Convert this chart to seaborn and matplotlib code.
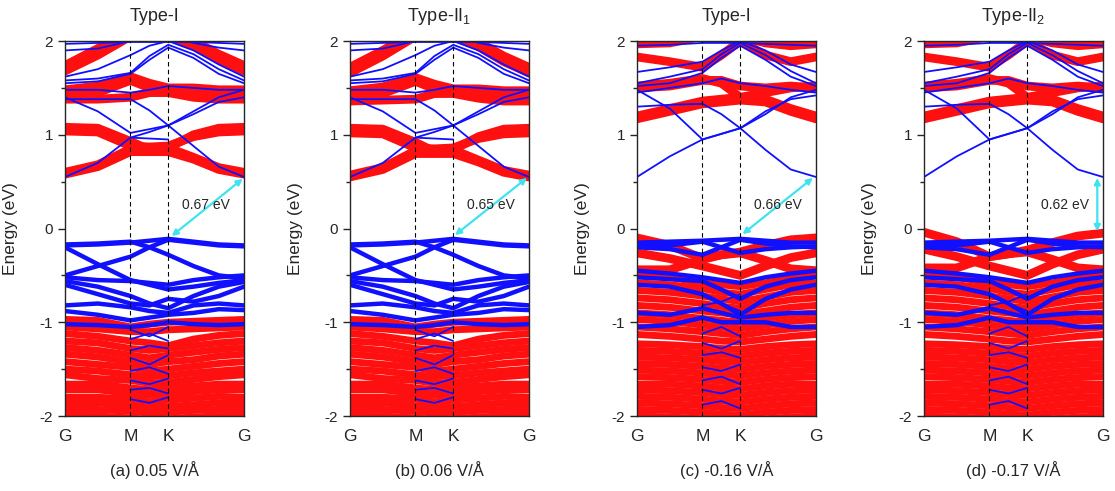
import numpy as np
import pandas as pd
import matplotlib.pyplot as plt
import seaborn as sns

# ---- k-path (G-M-K-G, hexagonal BZ) ----
K_PATH = [0.0, 0.289, 0.577, 0.744, 0.910, 1.132, 1.355, 1.577]
K_TICKS = [0.0, 0.577, 0.910, 1.577]
K_LABELS = ["G", "M", "K", "G"]
nan = np.nan

# ---- panel (a) : 0.05 V/A ----
a_cond_red = [
    [0.60, 0.68, 0.85, 0.86, 0.86, 0.76, 0.65, 0.60],
    [0.58, 0.66, 0.82, 0.82, 0.82, 0.74, 0.63, 0.58],
    [1.04, 1.03, 0.88, 0.87, 0.88, 0.98, 1.03, 1.04],
    [1.08, 1.07, 0.93, 0.84, 0.86, 1.00, 1.07, 1.08],
    [1.38, 1.38, 1.40, 1.45, 1.45, 1.40, 1.38, 1.38],
    [1.42, 1.45, 1.58, 1.50, 1.47, 1.45, 1.42, 1.42],
    [1.48, 1.52, 1.62, 1.55, 1.50, 1.50, 1.48, 1.48],
    [1.68, 1.85, 2.05, 2.05, 2.05, 1.95, 1.80, 1.68],
    [1.74, 1.92, 2.10, 2.10, 2.10, 2.00, 1.86, 1.74],
]
a_cond_blue = [
    [0.55, 0.70, 0.97, 1.03, 1.10, 0.88, 0.66, 0.55],
    [1.40, 1.25, 1.02, 1.06, 1.10, 1.25, 1.40, 1.48],
    [1.38, 1.38, 1.38, 1.26, 1.10, 1.22, 1.35, 1.40],
    [nan, nan, 0.97, 0.96, 0.95, nan, nan, nan],
    [1.48, 1.48, 1.45, 1.48, 1.52, 1.50, 1.48, 1.48],
    [1.55, 1.57, 1.65, 1.80, 1.93, 1.82, 1.65, 1.55],
    [1.58, 1.60, 1.66, 1.84, 1.96, 1.86, 1.70, 1.58],
    [1.62, 1.70, 1.85, 1.95, 2.00, 1.90, 1.75, 1.62],
    [1.90, 1.92, 2.00, 2.05, 2.05, 1.98, 1.93, 1.90],
    [1.97, 1.98, 1.99, 1.99, 1.99, 1.99, 1.98, 1.97],
]
b_cond_red = [
    [0.57, 0.65, 0.83, 0.84, 0.84, 0.73, 0.62, 0.57],
    [0.55, 0.63, 0.80, 0.80, 0.80, 0.71, 0.60, 0.55],
    [1.02, 1.01, 0.86, 0.85, 0.86, 0.96, 1.01, 1.02],
    [1.07, 1.06, 0.92, 0.82, 0.84, 0.98, 1.06, 1.07],
    [1.36, 1.37, 1.38, 1.44, 1.44, 1.39, 1.36, 1.36],
    [1.40, 1.44, 1.57, 1.49, 1.46, 1.44, 1.40, 1.40],
    [1.47, 1.51, 1.61, 1.54, 1.49, 1.49, 1.47, 1.47],
    [1.66, 1.84, 2.05, 2.05, 2.05, 1.94, 1.78, 1.66],
    [1.72, 1.90, 2.10, 2.10, 2.10, 1.99, 1.84, 1.72],
]
low_val_blue = [
    [-0.17, -0.16, -0.14, -0.20, -0.28, -0.40, -0.50, -0.53],
    [-0.18, -0.17, -0.15, -0.13, -0.11, -0.14, -0.17, -0.18],
    [-0.20, -0.38, -0.55, -0.60, -0.65, -0.62, -0.58, -0.55],
    [-0.50, -0.40, -0.30, -0.20, -0.12, -0.15, -0.18, -0.19],
    [-0.52, -0.55, -0.56, -0.58, -0.60, -0.55, -0.52, -0.50],
    [-0.56, -0.62, -0.72, -0.80, -0.85, -0.72, -0.62, -0.57],
    [-0.60, -0.70, -0.80, -0.82, -0.75, -0.78, -0.72, -0.62],
    [-0.82, -0.80, -0.84, -0.88, -0.90, -0.82, -0.80, -0.82],
    [-0.88, -0.92, -0.98, -0.95, -0.92, -0.90, -0.86, -0.87],
    [-1.02, -1.03, -1.05, -1.03, -1.00, -1.02, -1.03, -1.02],
]
low_val_red = [
    [-0.97, -0.98, -1.05, -1.02, -1.00, -0.99, -0.98, -0.97],
    [-1.05, -1.07, -1.10, -1.10, -1.08, -1.07, -1.06, -1.05],
    [-1.12, -1.15, -1.20, -1.22, -1.25, -1.18, -1.14, -1.12],
    [-1.20, -1.22, -1.28, -1.30, -1.28, -1.25, -1.22, -1.20],
    [-1.27, -1.30, -1.35, -1.38, -1.35, -1.32, -1.29, -1.27],
    [-1.34, -1.37, -1.42, -1.45, -1.42, -1.40, -1.36, -1.34],
    [-1.42, -1.45, -1.48, -1.52, -1.50, -1.47, -1.44, -1.42],
    [-1.50, -1.52, -1.56, -1.58, -1.57, -1.54, -1.52, -1.50],
    [-1.56, -1.60, -1.62, -1.65, -1.64, -1.61, -1.58, -1.56],
    [-1.66, -1.66, -1.70, -1.72, -1.70, -1.68, -1.66, -1.66],
    [-1.72, -1.72, -1.76, -1.78, -1.77, -1.74, -1.72, -1.72],
    [-1.80, -1.80, -1.82, -1.85, -1.83, -1.81, -1.79, -1.80],
    [-1.86, -1.86, -1.89, -1.91, -1.90, -1.88, -1.86, -1.86],
    [-1.93, -1.93, -1.95, -1.97, -1.96, -1.94, -1.93, -1.93],
    [-1.99, -2.00, -2.02, -2.04, -2.03, -2.01, -2.00, -1.99],
]
low_val_blue_mk = [
    [nan, nan, -1.08, -1.15, -1.05, nan, nan, nan],
    [nan, nan, -1.18, -1.12, -1.20, nan, nan, nan],
    [nan, nan, -1.30, -1.25, -1.28, nan, nan, nan],
    [nan, nan, -1.38, -1.45, -1.35, nan, nan, nan],
    [nan, nan, -1.52, -1.48, -1.55, nan, nan, nan],
    [nan, nan, -1.62, -1.66, -1.60, nan, nan, nan],
    [nan, nan, -1.72, -1.70, -1.76, nan, nan, nan],
    [nan, nan, -1.82, -1.86, -1.80, nan, nan, nan],
]

# ---- panel (c) : -0.16 V/A ----
c_cond_red = [
    [1.17, 1.25, 1.33, 1.35, 1.37, 1.35, 1.25, 1.17],
    [1.20, 1.28, 1.36, 1.38, 1.40, 1.38, 1.28, 1.20],
    [1.50, 1.52, 1.58, 1.58, 1.52, 1.50, 1.52, 1.50],
    [1.52, 1.55, 1.60, 1.55, 1.40, 1.45, 1.50, 1.52],
    [1.83, 1.78, 1.72, 1.85, 2.00, 1.85, 1.78, 1.83],
    [1.97, 1.98, 2.05, 2.05, 2.05, 1.98, 1.95, 1.97],
]
c_cond_blue = [
    [0.55, 0.77, 0.95, 1.01, 1.07, 0.84, 0.63, 0.55],
    [1.48, 1.28, 0.95, 1.01, 1.07, 1.22, 1.40, 1.48],
    [1.30, 1.32, 1.33, 1.22, 1.07, 1.25, 1.38, 1.42],
    [1.45, 1.50, 1.55, 1.60, 1.55, 1.52, 1.48, 1.45],
    [1.52, 1.55, 1.66, 1.82, 1.95, 1.80, 1.62, 1.52],
    [1.55, 1.62, 1.70, 1.86, 1.98, 1.85, 1.68, 1.55],
    [1.67, 1.72, 1.78, 1.90, 2.00, 1.90, 1.75, 1.67],
    [1.95, 1.96, 1.98, 1.98, 1.98, 1.97, 1.96, 1.95],
]
high_val_blue = [
    [-0.15, -0.14, -0.13, -0.12, -0.11, -0.13, -0.15, -0.15],
    [-0.19, -0.18, -0.14, -0.20, -0.26, -0.22, -0.20, -0.19],
    [-0.20, -0.22, -0.28, -0.20, -0.12, -0.16, -0.19, -0.20],
    [-0.45, -0.48, -0.52, -0.55, -0.58, -0.52, -0.48, -0.45],
    [-0.52, -0.54, -0.56, -0.65, -0.75, -0.62, -0.55, -0.52],
    [-0.60, -0.62, -0.70, -0.80, -0.92, -0.75, -0.65, -0.60],
    [-0.90, -0.92, -0.85, -0.90, -0.95, -0.92, -0.90, -0.90],
    [-1.05, -1.03, -0.95, -1.00, -1.00, -1.00, -1.05, -1.05],
]
c_val_red_top = [
    [-0.10, -0.18, -0.32, -0.28, -0.25, -0.18, -0.12, -0.10],
    [-0.26, -0.32, -0.40, -0.45, -0.50, -0.40, -0.31, -0.26],
    [-0.44, -0.44, -0.33, -0.28, -0.26, -0.34, -0.43, -0.45],
]
d_val_red_top = [
    [-0.04, -0.14, -0.30, -0.27, -0.23, -0.15, -0.08, -0.05],
    [-0.22, -0.30, -0.40, -0.45, -0.50, -0.38, -0.28, -0.22],
    [-0.42, -0.42, -0.30, -0.27, -0.25, -0.33, -0.42, -0.44],
]
high_val_red = [
    [-0.50, -0.52, -0.58, -0.60, -0.62, -0.58, -0.53, -0.50],
    [-0.58, -0.60, -0.64, -0.68, -0.70, -0.65, -0.60, -0.58],
    [-0.66, -0.68, -0.72, -0.75, -0.78, -0.73, -0.68, -0.66],
    [-0.74, -0.76, -0.80, -0.83, -0.85, -0.80, -0.76, -0.74],
    [-0.82, -0.84, -0.88, -0.90, -0.92, -0.88, -0.84, -0.82],
    [-0.90, -0.92, -0.96, -0.98, -1.00, -0.96, -0.92, -0.90],
    [-0.97, -0.99, -1.03, -1.05, -1.07, -1.03, -0.99, -0.97],
    [-1.05, -1.07, -1.10, -1.12, -1.14, -1.10, -1.07, -1.05],
    [-1.13, -1.15, -1.18, -1.20, -1.21, -1.18, -1.15, -1.13],
    [-1.23, -1.24, -1.26, -1.28, -1.29, -1.26, -1.24, -1.23],
    [-1.30, -1.31, -1.33, -1.35, -1.36, -1.33, -1.31, -1.30],
    [-1.37, -1.38, -1.40, -1.42, -1.43, -1.40, -1.38, -1.37],
    [-1.44, -1.45, -1.47, -1.49, -1.50, -1.47, -1.45, -1.44],
    [-1.51, -1.52, -1.54, -1.56, -1.57, -1.54, -1.52, -1.51],
    [-1.58, -1.59, -1.61, -1.63, -1.64, -1.61, -1.59, -1.58],
    [-1.66, -1.66, -1.68, -1.70, -1.71, -1.68, -1.66, -1.66],
    [-1.72, -1.73, -1.75, -1.77, -1.78, -1.75, -1.73, -1.72],
    [-1.79, -1.80, -1.82, -1.84, -1.85, -1.82, -1.80, -1.79],
    [-1.86, -1.87, -1.89, -1.91, -1.92, -1.89, -1.87, -1.86],
    [-1.93, -1.94, -1.96, -1.98, -1.99, -1.96, -1.94, -1.93],
    [-2.00, -2.01, -2.03, -2.05, -2.06, -2.03, -2.01, -2.00],
]
high_val_blue_mk = [
    [nan, nan, -0.72, -0.80, -0.88, nan, nan, nan],
    [nan, nan, -0.82, -0.78, -0.70, nan, nan, nan],
    [nan, nan, -1.12, -1.05, -1.15, nan, nan, nan],
    [nan, nan, -1.22, -1.28, -1.20, nan, nan, nan],
    [nan, nan, -1.35, -1.32, -1.38, nan, nan, nan],
    [nan, nan, -1.48, -1.52, -1.45, nan, nan, nan],
    [nan, nan, -1.62, -1.58, -1.66, nan, nan, nan],
    [nan, nan, -1.72, -1.76, -1.70, nan, nan, nan],
    [nan, nan, -1.88, -1.84, -1.92, nan, nan, nan],
]

titles = ["Type-I", "Type-II$_1$", "Type-I", "Type-II$_2$"]
captions = ["(a) 0.05 V/Å", "(b) 0.06 V/Å", "(c) -0.16 V/Å", "(d) -0.17 V/Å"]
gap_text = ["0.67 eV", "0.65 eV", "0.66 eV", "0.62 eV"]
gap_start = [(0.94, -0.08), (0.925, -0.07), (0.93, -0.06), (1.527, -0.03)]
gap_end = [(1.565, 0.53), (1.56, 0.54), (1.55, 0.54), (1.527, 0.54)]

panels = [
    dict(red_bulk=low_val_red, red=a_cond_red, blue_fat=low_val_blue,
         blue_thin=a_cond_blue + low_val_blue_mk),
    dict(red_bulk=low_val_red, red=b_cond_red, blue_fat=low_val_blue,
         blue_thin=a_cond_blue + low_val_blue_mk),
    dict(red_bulk=high_val_red, red=c_val_red_top + c_cond_red, blue_fat=high_val_blue,
         blue_thin=c_cond_blue + high_val_blue_mk),
    dict(red_bulk=high_val_red, red=d_val_red_top + c_cond_red, blue_fat=high_val_blue,
         blue_thin=c_cond_blue + high_val_blue_mk),
]

sns.set_style("ticks")
plt.rcParams["font.family"] = ["Liberation Sans", "DejaVu Sans"]
plt.rcParams["mathtext.fontset"] = "custom"
plt.rcParams["mathtext.rm"] = "Liberation Sans"
plt.rcParams["mathtext.it"] = "Liberation Sans:italic"


def draw_bands(ax, bands, color, lw, z):
    rows = [(K_PATH[i], e, j) for j, b in enumerate(bands)
            for i, e in enumerate(b) if not np.isnan(e)]
    df = pd.DataFrame(rows, columns=["k", "E", "band"])
    sns.lineplot(data=df, x="k", y="E", units="band", estimator=None,
                 color=color, lw=lw, ax=ax, zorder=z, legend=False)


fig = plt.figure(figsize=(11.15, 4.91), dpi=100)
lefts = [0.0583, 0.3139, 0.5713, 0.8287]

for n, p in enumerate(panels):
    ax = fig.add_axes([lefts[n], 0.1527, 0.1605, 0.7637])
    draw_bands(ax, p["red_bulk"], "#ff1010", 5.0, 1)
    draw_bands(ax, p["red"], "#ff1010", 6.3, 2)
    draw_bands(ax, p["blue_fat"], "#1010ff", 3.2, 3)
    draw_bands(ax, p["blue_thin"], "#1010ff", 1.3, 4)

    for kx in K_TICKS[1:3]:
        ax.axvline(kx, color="black", ls=(0, (4, 3)), lw=0.8, zorder=6)

    ax.annotate("", xy=gap_end[n], xytext=gap_start[n], zorder=7,
                arrowprops=dict(arrowstyle="<|-|>", color="#3fe3f0", lw=1.6,
                                mutation_scale=9, shrinkA=0, shrinkB=0))
    ax.text(1.24, 0.25, gap_text[n], fontsize=10, ha="center", va="center", zorder=8)

    ax.set_xlim(0, K_PATH[-1])
    ax.set_ylim(-2, 2)
    ax.set_xticks(K_TICKS)
    ax.set_xticklabels(K_LABELS, fontsize=12.5)
    ax.set_yticks([-2, -1, 0, 1, 2])
    ax.set_yticklabels(["-2", "-1", "0", "1", "2"], fontsize=11)
    ax.set_yticks([-1.5, -0.5, 0.5, 1.5], minor=True)
    ax.tick_params(axis="x", length=0, pad=9)
    ax.tick_params(axis="y", which="major", length=5, width=1, direction="out")
    ax.tick_params(axis="y", which="minor", length=3, width=1, direction="out")
    ax.set_xlabel("")
    ax.set_ylabel("Energy (eV)", fontsize=12.5)
    ax.yaxis.set_label_coords(-0.265, 0.5)
    for s in ax.spines.values():
        s.set_linewidth(1.0)
        s.set_zorder(10)

    ax.text(0.5, 1.065, titles[n], transform=ax.transAxes, fontsize=13,
            ha="center", va="center")
    ax.text(0.5, -0.145, captions[n], transform=ax.transAxes, fontsize=12,
            ha="center", va="center")

fig.savefig("out.png", dpi=100)
